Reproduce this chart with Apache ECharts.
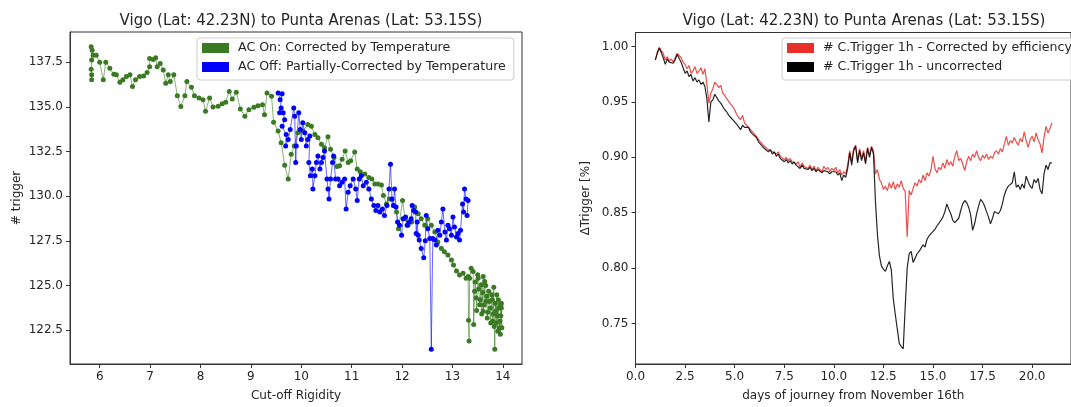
<!DOCTYPE html>
<html>
<head>
<meta charset="utf-8">
<script src="https://cdn.jsdelivr.net/npm/echarts@6/dist/echarts.min.js"></script>
<style>
html,body{margin:0;padding:0;background:#fff;overflow:hidden;}
#chart{width:1071px;height:407px;}
</style>
</head>
<body>
<div id="chart"></div>
<script>
// ---------- Left panel: AC On (green) ----------
const acOnRigidity = [5.84,5.84,5.83,5.84,5.83,5.85,5.87,5.93,6.00,6.07,6.12,6.20,6.28,6.33,6.40,6.46,6.53,6.60,6.65,6.71,6.79,6.87,6.94,6.99,6.99,7.06,7.11,7.14,7.20,7.26,7.31,7.36,7.40,7.47,7.54,7.61,7.69,7.73,7.82,7.88,7.97,8.05,8.10,8.18,8.25,8.35,8.43,8.50,8.57,8.63,8.71,8.79,8.88,8.96,9.06,9.14,9.23,9.27,9.32,9.41,
9.45,9.54,9.60,9.67,9.74,9.80,9.86,9.93,10.03,10.13,10.20,10.27,10.33,10.40,10.46,10.53,10.58,10.65,10.71,10.76,10.81,10.87,10.93,10.98,11.06,11.11,11.17,11.26,11.34,11.40,11.46,11.52,11.59,11.63,11.69,11.75,11.83,11.89,11.93,12.01,12.06,12.12,12.19,12.25,12.32,12.38,12.45,12.51,12.58,12.65,12.71,12.78,12.84,12.91,12.98,13.02,13.08,13.14,13.21,13.27,13.31,13.32,13.33,13.34,13.37,13.41,13.42,13.44,13.45,13.47,13.48,13.50,13.51,13.52,13.54,13.55,13.57,13.58,13.60,13.61,13.61,13.63,13.64,13.66,13.67,13.68,13.69,13.70,13.72,13.73,13.75,13.76,13.78,13.79,13.80,13.81,13.82,13.83,13.84,13.85,13.86,13.87,13.88,13.89,13.90,13.91,13.92,13.93,13.94,13.95,13.96,13.97,13.98,13.97,13.96];
const acOnTrigger = [136.52,136.80,137.11,137.63,138.37,138.18,137.90,137.90,137.50,136.52,137.50,137.17,136.83,136.80,136.39,136.52,136.70,136.80,136.15,136.52,136.70,136.74,136.93,137.26,137.72,137.66,137.76,137.26,137.44,137.07,136.33,136.80,136.42,136.80,135.63,135.03,135.63,136.42,136.11,135.63,135.50,135.41,134.76,135.50,135.00,135.04,135.18,135.26,135.87,135.44,135.83,134.89,134.48,134.85,134.98,135.07,135.13,134.57,135.78,135.60,
134.15,133.65,133.00,131.74,130.96,132.35,132.81,133.55,133.65,134.02,133.92,133.46,133.28,132.91,132.72,133.33,132.63,132.17,131.67,131.70,132.07,132.54,131.89,131.98,132.48,131.52,131.37,131.24,131.05,130.96,130.68,130.68,130.63,130.04,129.57,129.85,129.48,129.11,128.18,129.76,128.74,128.37,128.55,129.39,129.02,128.74,128.37,128.74,128.37,128.00,127.44,127.07,126.89,126.70,126.42,126.15,125.81,125.59,125.68,125.41,125.50,123.05,121.89,125.41,125.96,125.78,122.81,124.67,125.20,124.30,123.60,125.60,125.41,124.80,123.92,124.20,125.04,123.40,124.60,125.50,123.55,123.90,125.22,125.00,124.11,124.40,123.18,123.50,124.67,124.10,123.74,122.90,124.48,124.20,123.00,123.40,124.90,122.70,121.43,124.00,123.55,122.90,124.48,123.30,122.44,124.20,123.74,122.60,123.00,122.26,123.90,123.74,122.63,124.00,123.30];

// ---------- Left panel: AC Off (blue) ----------
const acOffRigidity = [9.54,9.58,9.62,9.57,9.60,9.64,9.67,9.62,9.70,9.69,9.74,9.78,9.85,9.87,9.89,9.90,9.95,9.98,10.00,10.03,10.07,10.10,10.13,10.17,10.15,10.18,10.22,10.23,10.27,10.30,10.33,10.37,10.40,10.43,10.46,10.51,10.53,10.55,10.58,10.62,10.64,10.68,10.73,10.76,10.81,10.86,10.89,10.93,10.97,11.03,11.08,11.11,11.15,11.19,11.23,11.29,11.34,11.39,11.44,11.48,11.52,11.56,11.61,11.65,11.70,11.74,11.77,11.80,11.83,11.85,11.88,11.91,11.95,11.99,12.02,12.07,12.10,12.14,12.18,12.20,12.23,12.27,12.28,12.30,12.32,12.34,12.38,12.43,12.46,12.48,12.51,12.55,12.58,12.61,12.65,12.68,12.71,12.75,12.78,12.81,12.85,12.88,12.91,12.94,12.98,13.01,13.04,13.08,13.11,13.14,13.16,13.20,13.22,13.24,13.27,13.31,13.29];
const acOffTrigger = [135.78,135.41,135.74,134.67,134.94,134.67,134.29,133.92,133.46,132.81,133.18,133.74,134.94,134.48,131.89,132.81,134.67,133.74,133.18,134.11,133.55,132.81,133.18,133.37,131.89,131.15,131.52,130.41,131.15,131.89,132.26,131.52,131.89,132.17,132.54,130.96,130.41,129.85,130.96,131.89,132.26,130.96,130.96,130.59,130.78,130.96,129.29,130.22,130.59,130.96,130.41,129.76,130.96,131.15,130.59,130.78,130.41,129.85,129.48,129.20,129.48,129.11,129.29,128.92,129.48,130.41,131.79,129.85,129.48,130.41,129.39,128.55,128.37,127.81,128.74,128.83,128.37,128.55,128.74,129.48,129.20,129.11,127.91,128.55,127.81,127.54,127.07,126.55,127.50,128.92,128.18,127.63,121.43,127.63,127.54,127.26,128.09,127.81,128.55,129.29,128.00,127.54,128.37,128.18,127.81,128.83,128.28,127.72,127.91,127.54,128.09,129.57,129.11,130.41,129.85,129.76,128.92];

// ---------- Right panel ----------
const days = [1.0,1.1,1.2,1.3,1.4,1.5,1.6,1.7,1.8,1.9,2.0,2.1,2.2,2.3,2.4,2.5,2.6,2.7,2.8,2.9,3.0,3.1,3.2,3.3,3.4,3.5,3.6,3.7,3.8,3.9,4.0,4.1,4.2,4.3,4.4,4.5,4.6,4.7,4.8,4.9,5.0,5.1,5.2,5.3,5.4,5.5,5.6,5.7,5.8,5.9,6.0,6.1,6.2,6.3,6.4,6.5,6.6,6.7,6.8,6.9,7.0,7.1,7.2,7.3,7.4,7.5,7.6,7.7,7.8,7.9,8.0,8.1,8.2,8.3,8.4,8.5,8.6,8.7,8.8,8.9,9.0,9.1,9.2,9.3,9.4,9.5,9.6,9.7,9.8,9.9,10.0,10.1,10.2,10.3,10.4,10.5,10.6,10.7,10.8,10.9,11.0,11.1,11.2,11.3,11.4,11.5,11.6,11.7,11.8,11.9,12.0,12.1,12.2,12.3,12.4,12.5,12.6,12.7,12.8,12.9,13.0,13.1,13.2,13.3,13.4,13.5,13.6,13.7,13.8,13.9,14.0,14.1,14.2,14.3,14.4,14.5,14.6,14.7,14.8,14.9,15.0,15.1,15.2,15.3,15.4,15.5,15.6,15.7,15.8,15.9,16.0,16.1,16.2,16.3,16.4,16.5,16.6,16.7,16.8,16.9,17.0,17.1,17.2,17.3,17.4,17.5,17.6,17.7,17.8,17.9,18.0,18.1,18.2,18.3,18.4,18.5,18.6,18.7,18.8,18.9,19.0,19.1,19.2,19.3,19.4,19.5,19.6,19.7,19.8,19.9,20.0,20.1,20.2,20.3,20.4,20.5,20.6,20.7,20.8,20.9,21.0];
const correctedTrigger = [
0.988,0.995,0.999,1.000,0.994,0.988,0.991,0.987,0.989,0.986,
0.990,0.994,0.995,0.990,0.986,0.984,0.980,0.983,0.976,0.978,
0.982,0.976,0.978,0.981,0.975,0.980,0.966,0.949,0.958,0.962,
0.968,0.966,0.963,0.965,0.958,0.956,0.953,0.954,0.948,0.946,
0.943,0.939,0.936,0.934,0.938,0.931,0.929,0.930,0.925,0.923,
0.921,0.919,0.916,0.914,0.912,0.910,0.909,0.907,0.908,0.905,
0.906,0.903,0.905,0.901,0.902,0.898,0.900,0.897,0.899,0.896,
0.897,0.894,0.896,0.891,0.895,0.892,0.893,0.890,0.893,0.889,
0.892,0.888,0.891,0.890,0.887,0.892,0.889,0.891,0.887,0.890,
0.888,0.891,0.886,0.889,0.884,0.887,0.885,0.893,0.906,0.896,
0.908,0.911,0.897,0.908,0.899,0.906,0.896,0.909,0.902,0.910,
0.906,0.885,0.889,0.880,0.877,0.871,0.874,0.870,0.877,0.872,
0.878,0.871,0.876,0.873,0.879,0.872,0.869,0.828,0.870,0.866,
0.872,0.877,0.874,0.880,0.877,0.884,0.879,0.886,0.883,0.889,
0.901,0.890,0.886,0.891,0.889,0.895,0.890,0.898,0.893,0.896,
0.892,0.901,0.906,0.897,0.899,0.894,0.888,0.896,0.901,0.897,
0.903,0.900,0.906,0.900,0.897,0.902,0.899,0.903,0.898,0.901,
0.899,0.904,0.906,0.903,0.908,0.905,0.912,0.919,0.911,0.915,
0.913,0.918,0.914,0.911,0.917,0.914,0.923,0.915,0.909,0.916,
0.919,0.914,0.922,0.916,0.912,0.904,0.918,0.928,0.922,0.926,
0.931];
const uncorrectedTrigger = [
0.988,0.994,0.999,0.998,0.990,0.984,0.989,0.986,0.987,0.985,
0.988,0.993,0.993,0.986,0.981,0.976,0.978,0.973,0.975,0.969,
0.972,0.968,0.970,0.966,0.968,0.964,0.953,0.932,0.950,0.952,
0.957,0.954,0.951,0.949,0.946,0.943,0.941,0.938,0.936,0.934,
0.933,0.930,0.931,0.925,0.929,0.927,0.926,0.927,0.923,0.921,
0.920,0.918,0.914,0.913,0.910,0.908,0.907,0.905,0.907,0.903,
0.905,0.901,0.903,0.899,0.900,0.896,0.898,0.895,0.897,0.894,
0.896,0.893,0.894,0.890,0.893,0.890,0.891,0.889,0.891,0.888,
0.890,0.887,0.889,0.888,0.886,0.888,0.887,0.887,0.885,0.887,
0.886,0.887,0.884,0.886,0.879,0.884,0.882,0.890,0.904,0.893,
0.906,0.910,0.895,0.906,0.897,0.904,0.894,0.908,0.900,0.909,
0.903,0.860,0.830,0.811,0.802,0.799,0.797,0.802,0.806,0.798,
0.772,0.758,0.745,0.732,0.729,0.727,0.765,0.800,0.813,0.815,
0.805,0.806,0.813,0.815,0.818,0.821,0.819,0.826,0.829,0.831,
0.830,0.835,0.838,0.839,0.843,0.846,0.851,0.858,0.853,0.849,
0.843,0.841,0.840,0.845,0.852,0.858,0.861,0.859,0.855,0.848,
0.834,0.840,0.849,0.856,0.862,0.860,0.856,0.851,0.846,0.840,
0.845,0.851,0.850,0.849,0.852,0.858,0.866,0.871,0.874,0.873,
0.877,0.887,0.873,0.875,0.871,0.876,0.872,0.883,0.878,0.874,
0.872,0.880,0.877,0.881,0.871,0.867,0.885,0.893,0.889,0.895,
0.895];

// ---------- Tick labels ----------
const leftXTicks = [6,7,8,9,10,11,12,13,14];
const leftYTicks = [122.5,125.0,127.5,130.0,132.5,135.0,137.5];
const rightXTicks = [0,2.5,5,7.5,10,12.5,15,17.5,20];
const rightYTicks = [0.75,0.80,0.85,0.90,0.95,1.00];

const titleText = 'Vigo (Lat: 42.23N) to Punta Arenas (Lat: 53.15S)';
const nameOn = 'AC On: Corrected by Temperature';
const nameOff = 'AC Off: Partially-Corrected by Temperature';
const nameCorr = '# C.Trigger 1h - Corrected by efficiency';
const nameUncorr = '# C.Trigger 1h - uncorrected';

const FONT = 'DejaVu Sans';
const TXT = '#262626';
const AX = '#333333';

function zip(a, b) { return a.map((v, i) => [v, b[i]]); }

function makeX(grid, min, max, ticks, fmt, name) {
  return {
    type: 'value', gridIndex: grid, min: min, max: max,
    name: name, nameLocation: 'middle', nameGap: 26,
    nameTextStyle: { fontFamily: FONT, fontSize: 12, color: TXT },
    axisLine: { show: true, onZero: false, lineStyle: { color: AX, width: 1 } },
    axisTick: { show: true, length: 4, lineStyle: { color: AX }, customValues: ticks },
    axisLabel: { fontFamily: FONT, fontSize: 12, color: TXT, margin: 7, customValues: ticks, formatter: fmt },
    splitLine: { show: false }
  };
}
function makeY(grid, min, max, ticks, fmt, name, gap) {
  return {
    type: 'value', gridIndex: grid, min: min, max: max,
    name: name, nameLocation: 'middle', nameGap: gap, nameRotate: 90,
    nameTextStyle: { fontFamily: FONT, fontSize: 12, color: TXT },
    axisLine: { show: true, onZero: false, lineStyle: { color: AX, width: 1 } },
    axisTick: { show: true, length: 4, lineStyle: { color: AX }, customValues: ticks },
    axisLabel: { fontFamily: FONT, fontSize: 12, color: TXT, margin: 7, customValues: ticks, formatter: fmt },
    splitLine: { show: false }
  };
}

const legendBase = {
  orient: 'vertical', icon: 'rect', itemWidth: 27, itemHeight: 10, itemGap: 3,
  padding: [2, 8, 5, 5], borderColor: '#cccccc', borderWidth: 1, borderRadius: 3,
  backgroundColor: 'rgba(255,255,255,0.85)',
  textStyle: { fontFamily: FONT, fontSize: 12.6, color: TXT, lineHeight: 16, padding: [0, 0, 0, 4] },
  selectedMode: false
};

const option = {
  animation: false,
  backgroundColor: '#ffffff',
  title: [
    { text: titleText, left: 296, top: 9, textAlign: 'center',
      textStyle: { fontFamily: FONT, fontSize: 15, fontWeight: 'normal', color: TXT } },
    { text: titleText, left: 859, top: 9, textAlign: 'center',
      textStyle: { fontFamily: FONT, fontSize: 15, fontWeight: 'normal', color: TXT } }
  ],
  grid: [
    { left: 70, top: 32, width: 452, height: 335, show: true, borderColor: AX, borderWidth: 1, backgroundColor: 'transparent' },
    { left: 635.5, top: 32.5, width: 447, height: 334, show: true, borderColor: AX, borderWidth: 1, backgroundColor: 'transparent' }
  ],
  xAxis: [
    makeX(0, 5.41, 14.38, leftXTicks, v => String(Math.round(v)), 'Cut-off Rigidity'),
    makeX(1, 0, 21.96, rightXTicks, v => v.toFixed(1), 'days of journey from November 16th')
  ],
  yAxis: [
    makeY(0, 120.6, 139.2, leftYTicks, v => v.toFixed(1), '# trigger', 47),
    makeY(1, 0.7133, 1.0128, rightYTicks, v => v.toFixed(2), 'ΔTrigger [%]', 44)
  ],
  legend: [
    Object.assign({}, legendBase, { left: 197, top: 38, data: [nameOn, nameOff] }),
    Object.assign({}, legendBase, { left: 782, top: 38, data: [nameCorr, nameUncorr] })
  ],
  series: [
    { name: nameOn, type: 'line', xAxisIndex: 0, yAxisIndex: 0, data: zip(acOnRigidity, acOnTrigger),
      symbol: 'circle', symbolSize: 5, showSymbol: true, color: '#3a7a22',
      lineStyle: { width: 1, opacity: 0.6 }, itemStyle: { color: '#3a7a22' } },
    { name: nameOff, type: 'line', xAxisIndex: 0, yAxisIndex: 0, data: zip(acOffRigidity, acOffTrigger),
      symbol: 'circle', symbolSize: 5, showSymbol: true, color: '#0000ff',
      lineStyle: { width: 1, opacity: 0.6 }, itemStyle: { color: '#0000ff' } },
    { name: nameCorr, type: 'line', xAxisIndex: 1, yAxisIndex: 1, data: zip(days, correctedTrigger),
      showSymbol: false, color: '#e8302a', lineStyle: { width: 1.2, opacity: 0.85 }, itemStyle: { color: '#e8302a' } },
    { name: nameUncorr, type: 'line', xAxisIndex: 1, yAxisIndex: 1, data: zip(days, uncorrectedTrigger),
      showSymbol: false, color: '#000000', lineStyle: { width: 1.2, opacity: 0.85 }, itemStyle: { color: '#000000' } }
  ]
};

const chart = echarts.init(document.getElementById('chart'), null, { renderer: 'canvas' });
chart.setOption(option);
</script>
</body>
</html>
